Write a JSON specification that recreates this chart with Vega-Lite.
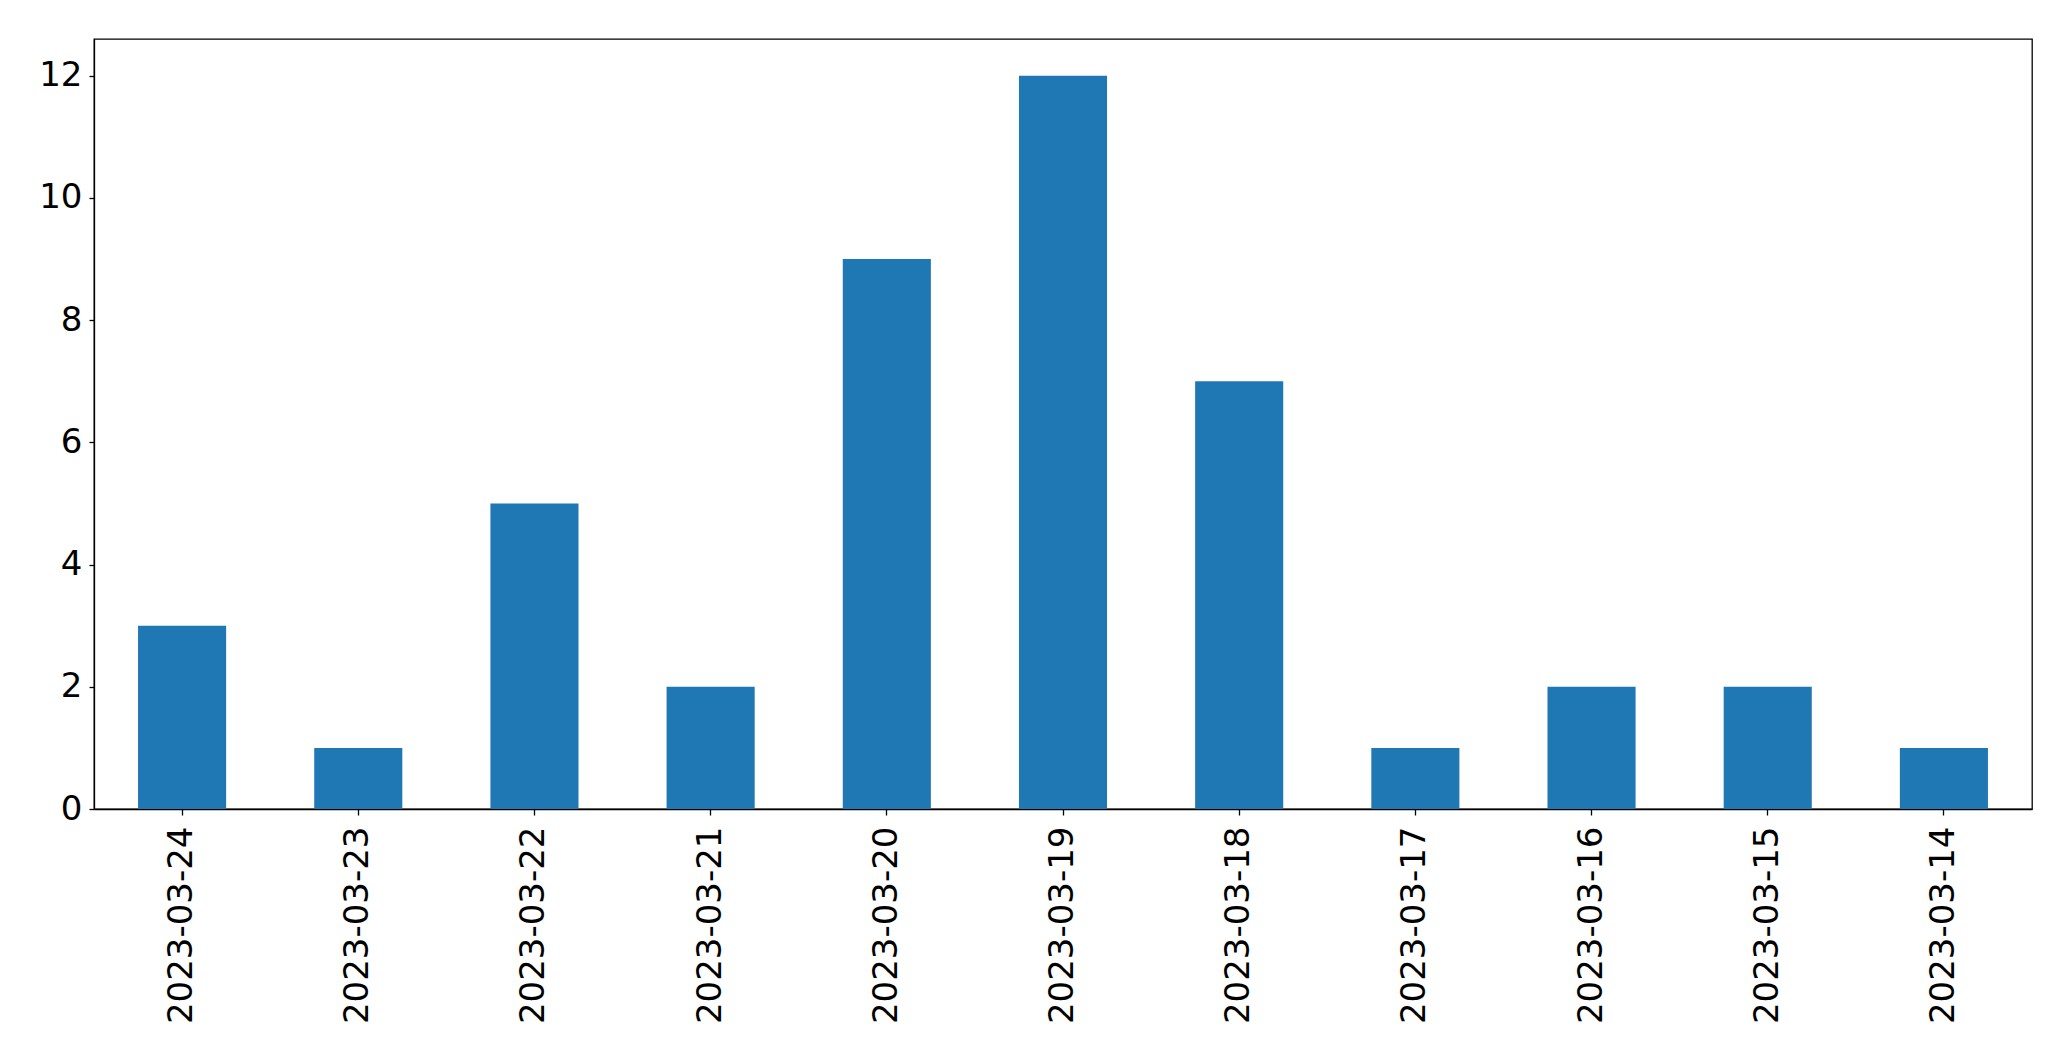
{
  "$schema": "https://vega.github.io/schema/vega-lite/v6.json",
  "autosize": "none",
  "padding": {"left": 94, "top": 39, "right": 39, "bottom": 252},
  "width": 1938,
  "height": 770,
  "background": "white",
  "config": {
    "view": {"stroke": "black", "strokeWidth": 1.3},
    "axis": {"grid": false, "labelFont": "DejaVu Sans", "labelFontSize": 34, "labelColor": "black", "tickColor": "black", "domainColor": "black", "tickWidth": 1.3, "domainWidth": 1.3, "labelLimit": 400}
  },
  "data": {"values": [
    {"date": "2023-03-24", "count": 3},
    {"date": "2023-03-23", "count": 1},
    {"date": "2023-03-22", "count": 5},
    {"date": "2023-03-21", "count": 2},
    {"date": "2023-03-20", "count": 9},
    {"date": "2023-03-19", "count": 12},
    {"date": "2023-03-18", "count": 7},
    {"date": "2023-03-17", "count": 1},
    {"date": "2023-03-16", "count": 2},
    {"date": "2023-03-15", "count": 2},
    {"date": "2023-03-14", "count": 1}
  ]},
  "mark": {"type": "bar", "color": "#1f77b4"},
  "encoding": {
    "x": {
      "field": "date", "type": "nominal", "sort": null,
      "scale": {"paddingInner": 0.5, "paddingOuter": 0.25},
      "axis": {"title": null, "labelAngle": 270, "labelAlign": "right", "labelBaseline": "middle", "tickSize": 6, "labelPadding": 11}
    },
    "y": {
      "field": "count", "type": "quantitative",
      "scale": {"domain": [0, 12.6], "nice": false},
      "axis": {"title": null, "values": [0, 2, 4, 6, 8, 10, 12], "tickSize": 5, "labelPadding": 7}
    }
  }
}
